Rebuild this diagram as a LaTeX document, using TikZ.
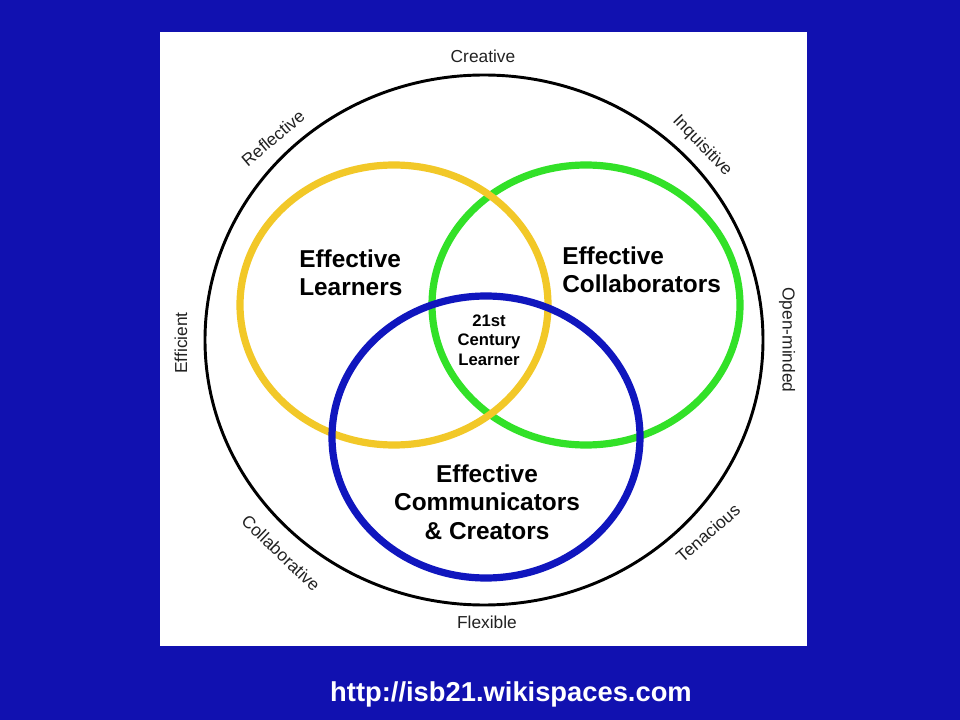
\documentclass[tikz,border=0pt]{standalone}
\usepackage{fontspec}
\setmainfont{Liberation Sans}
\definecolor{slideblue}{RGB}{17,17,176}
\definecolor{ringyellow}{RGB}{242,200,40}
\definecolor{ringgreen}{RGB}{50,225,40}
\definecolor{ringblue}{RGB}{16,22,190}
\definecolor{labelgray}{RGB}{34,34,34}
\begin{document}
\begin{tikzpicture}[
        x=0.75pt, y=-0.75pt,
        ring/.style={line width=5.4pt},
        trait/.style={text=labelgray, inner sep=0pt, font=\fontsize{13}{15}\selectfont},
        skill/.style={inner sep=0pt, font=\bfseries\fontsize{18.3}{21.3}\selectfont},
        core/.style={inner sep=0pt, align=center, font=\bfseries\fontsize{12.5}{14.6}\selectfont}
    ]
        \fill[slideblue] (0,0) rectangle (960,720);
        \fill[white] (160,32) rectangle (807,646);

        \draw[line width=2.2pt] (484,340) ellipse [x radius=279, y radius=265];
        \draw[ring, ringgreen] (586,305) ellipse [x radius=154, y radius=140];
        \draw[ring, ringyellow] (394,305) ellipse [x radius=154, y radius=140];
        \draw[ring, ringblue] (486,437) ellipse [x radius=154, y radius=141];

        \node[trait] (creative) at (483,56) {Creative};
        \node[trait] (flexible) at (487,622) {Flexible};
        \node[trait, rotate=90] (efficient) at (181,343) {Efficient};
        \node[trait, rotate=-90] (openminded) at (787,340) {Open-minded};
        \node[trait, rotate=40] (reflective) at (273,138) {Reflective};
        \node[trait, rotate=-46] (inquisitive) at (702,146) {Inquisitive};
        \node[trait, rotate=-44] (collaborative) at (281,553) {Collaborative};
        \node[trait, rotate=41] (tenacious) at (708,533) {Tenacious};

        \node[skill, align=left, anchor=west] (learners) at (299,273) {Effective\\Learners};
        \node[skill, align=left, anchor=west] (collaborators) at (562,270) {Effective\\Collaborators};
        \node[skill, align=center] (communicators) at (487,502) {Effective\\Communicators\\\& Creators};
        \node[core] (learner) at (489,340) {21st\\Century\\Learner};

        \node[text=white, font=\bfseries\fontsize{20.5}{24}\selectfont] (url) at (511,694) {http://isb21.wikispaces.com};
    \end{tikzpicture}
\end{document}
